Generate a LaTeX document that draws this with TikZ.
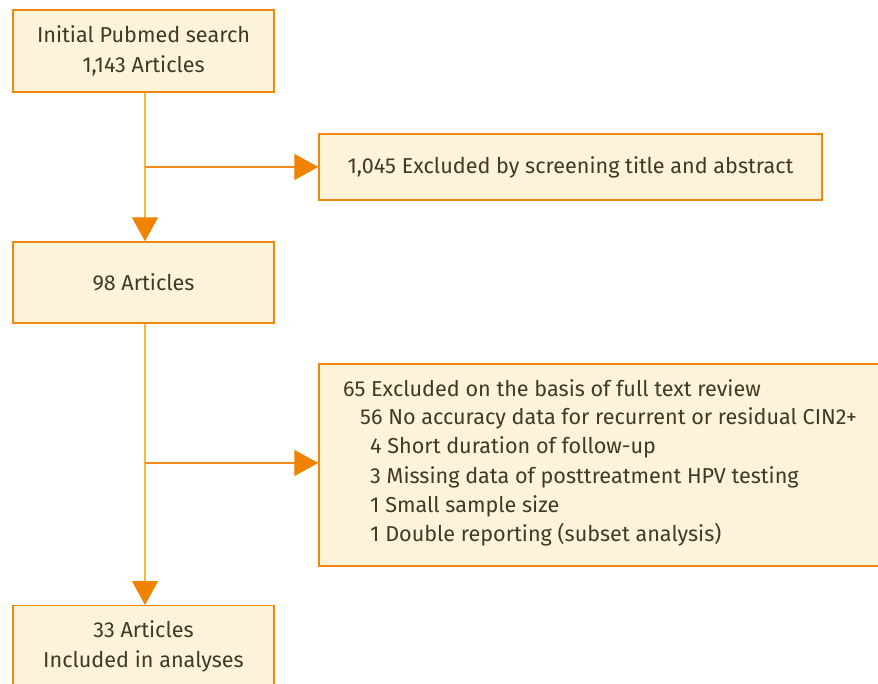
\documentclass[tikz,border=0pt]{standalone}
\usepackage{fontspec}
\setmainfont{Fira Sans}
\usetikzlibrary{arrows.meta}
\definecolor{boxfill}{HTML}{FDF3D8}
\definecolor{boxline}{HTML}{F0870F}
\definecolor{vline}{HTML}{F6B73C}
\definecolor{hline}{HTML}{F08A1C}
\definecolor{tip}{HTML}{F08300}
\definecolor{txt}{HTML}{3D3A28}
\tikzset{
  x=1pt,y=1pt,
  flowbox/.style={draw=boxline, line width=1.3pt, fill=boxfill, text=txt, align=center, inner sep=0pt, font=\fontsize{21.6}{30}\selectfont},
  listtext/.style={anchor=west, text=txt, inner sep=0pt, font=\fontsize{21.6}{30}\selectfont},
  vconn/.style={draw=vline, line width=1.2pt, -{Triangle[length=24pt,width=26pt,color=tip]}},
  hconn/.style={draw=hline, line width=1.2pt, -{Triangle[length=24pt,width=26pt,color=tip]}},
}
\begin{document}
\begin{tikzpicture}
\useasboundingbox (0,0) rectangle (878,-683);
\clip (0,0) rectangle (878,-683);
\node[flowbox, minimum width=261pt, minimum height=82pt] (b1) at (143.5,-51) {Initial Pubmed search\\1,143 Articles};
\node[flowbox, minimum width=503pt, minimum height=66pt] (b2) at (570.5,-167) {1,045 Excluded by screening title and abstract};
\node[flowbox, minimum width=261pt, minimum height=81pt] (b3) at (143.5,-282.5) {98 Articles};
\node[flowbox, minimum width=563pt, minimum height=202pt] (b4) at (600.5,-465) {};
\node[flowbox, minimum width=261pt, minimum height=100pt, anchor=north] (b5) at (143.5,-605) {};
\node[text=txt, align=center, font=\fontsize{21.6}{30}\selectfont] (t5) at (143.5,-646) {33 Articles\\Included in analyses};
\node[listtext] (l1) at (343,-388) {65 Excluded on the basis of full text review};
\node[listtext] (l2) at (360,-418) {56 No accuracy data for recurrent or residual CIN2+};
\node[listtext] (l3) at (370,-447) {4 Short duration of follow-up};
\node[listtext] (l4) at (370,-477) {3 Missing data of posttreatment HPV testing};
\node[listtext] (l5) at (370,-506) {1 Small sample size};
\node[listtext] (l6) at (370,-535) {1 Double reporting (subset analysis)};
\coordinate (j1) at (145,-167);
\coordinate (j2) at (145,-463);
\draw[vconn] (b1.south -| j1) -- (b3.north -| j1);
\draw[hconn] (j1) -- (b2.west |- j1);
\draw[vconn] (b3.south -| j2) -- (b5.north -| j2);
\draw[hconn] (j2) -- (b4.west |- j2);
\end{tikzpicture}
\end{document}
